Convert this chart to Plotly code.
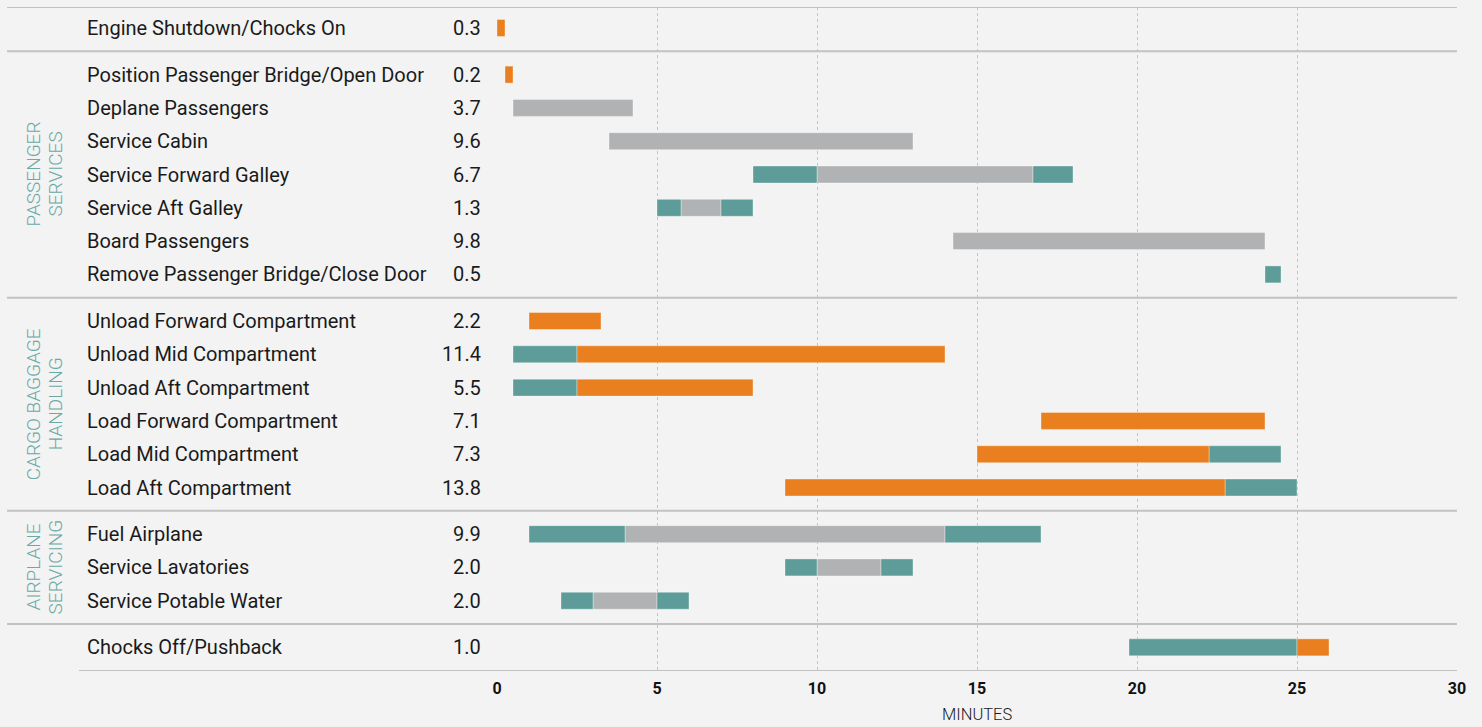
import plotly.graph_objects as go

# ---------------- data ----------------
tasks = [
    "Engine Shutdown/Chocks On",
    "Position Passenger Bridge/Open Door",
    "Deplane Passengers",
    "Service Cabin",
    "Service Forward Galley",
    "Service Aft Galley",
    "Board Passengers",
    "Remove Passenger Bridge/Close Door",
    "Unload Forward Compartment",
    "Unload Mid Compartment",
    "Unload Aft Compartment",
    "Load Forward Compartment",
    "Load Mid Compartment",
    "Load Aft Compartment",
    "Fuel Airplane",
    "Service Lavatories",
    "Service Potable Water",
    "Chocks Off/Pushback",
]
durations = ["0.3", "0.2", "3.7", "9.6", "6.7", "1.3", "9.8", "0.5",
             "2.2", "11.4", "5.5", "7.1", "7.3", "13.8",
             "9.9", "2.0", "2.0", "1.0"]
task_group = [0, 1, 1, 1, 1, 1, 1, 1, 2, 2, 2, 2, 2, 2, 3, 3, 3, 4]
group_labels = [[], ["PASSENGER", "SERVICES"], ["CARGO BAGGAGE", "HANDLING"],
                ["AIRPLANE", "SERVICING"], []]

# bar segments: task index, start (min), end (min), kind
seg_task = [0, 1, 2, 3,
            4, 4, 4,
            5, 5, 5,
            6, 7,
            8, 9, 9, 10, 10, 11, 12, 12, 13, 13,
            14, 14, 14, 15, 15, 15, 16, 16, 16,
            17, 17]
seg_start = [0.0, 0.25, 0.5, 3.5,
             8.0, 10.0, 16.75,
             5.0, 5.75, 7.0,
             14.25, 24.0,
             1.0, 0.5, 2.5, 0.5, 2.5, 17.0, 15.0, 22.25, 9.0, 22.75,
             1.0, 4.0, 14.0, 9.0, 10.0, 12.0, 2.0, 3.0, 5.0,
             19.75, 25.0]
seg_end = [0.25, 0.5, 4.25, 13.0,
           10.0, 16.75, 18.0,
           5.75, 7.0, 8.0,
           24.0, 24.5,
           3.25, 2.5, 14.0, 2.5, 8.0, 24.0, 22.25, 24.5, 22.75, 25.0,
           4.0, 14.0, 17.0, 10.0, 12.0, 13.0, 3.0, 5.0, 6.0,
           25.0, 26.0]
seg_kind = ["orange", "orange", "gray", "gray",
            "teal", "gray", "teal",
            "teal", "gray", "teal",
            "gray", "teal",
            "orange", "teal", "orange", "teal", "orange", "orange", "orange", "teal", "orange", "teal",
            "teal", "gray", "teal", "teal", "gray", "teal", "teal", "gray", "teal",
            "teal", "orange"]

x_ticks = [0, 5, 10, 15, 20, 25, 30]

# ---------------- style ----------------
COLORS = {"orange": "#E97F1F", "teal": "#5D9C98", "gray": "#B1B2B4"}
BG = "#F3F3F3"
TEAL_TXT = "#6AA9A5"
FONT = "Roboto, sans-serif"
W, H = 1482, 727
L, R, T, B = 497, 25, 7, 56
GROUP_GAP = 0.4
plot_w = W - L - R

# row positions (in row units) derived from index and group
ypos = [i + GROUP_GAP * g for i, g in enumerate(task_group)]
y_top = -0.63
y_bot = y_top + (H - T - B) / 33.3


def px_to_paper_x(px):
    return (px - L) / plot_w


fig = go.Figure()
for kind in ["gray", "teal", "orange"]:
    idx = [k for k, v in enumerate(seg_kind) if v == kind]
    fig.add_trace(go.Bar(
        orientation="h",
        y=[ypos[seg_task[k]] for k in idx],
        base=[seg_start[k] for k in idx],
        x=[seg_end[k] - seg_start[k] for k in idx],
        width=0.51,
        marker=dict(color=COLORS[kind], line=dict(color="rgba(255,255,255,0.35)", width=1)),
        showlegend=False,
        hoverinfo="skip",
    ))

annotations = []
for i, name in enumerate(tasks):
    annotations.append(dict(
        x=px_to_paper_x(85), xref="paper", y=ypos[i], yref="y",
        text=name, showarrow=False, xanchor="left", yanchor="middle",
        font=dict(family=FONT, size=20, color="#1a1a1a", weight=400)))
    annotations.append(dict(
        x=px_to_paper_x(483), xref="paper", y=ypos[i], yref="y",
        text=durations[i], showarrow=False, xanchor="right", yanchor="middle",
        font=dict(family=FONT, size=20, color="#1a1a1a", weight=400)))

# group labels (rotated, two lines each)
for g, lines in enumerate(group_labels):
    if not lines:
        continue
    ys = [ypos[i] for i in range(len(tasks)) if task_group[i] == g]
    for j, line in enumerate(lines):
        annotations.append(dict(
            x=px_to_paper_x(33 + 22 * j), xref="paper", y=(min(ys) + max(ys)) / 2, yref="y",
            text=line, showarrow=False, textangle=-90, xanchor="center", yanchor="middle",
            font=dict(family=FONT, size=19, color=TEAL_TXT, weight=300)))

annotations.append(dict(
    x=15, xref="x", y=0, yref="paper", yshift=-33, borderpad=0,
    text="MINUTES", showarrow=False, xanchor="center", yanchor="top",
    font=dict(family=FONT, size=16.5, color="#1a1a1a", weight=300)))

# separators between groups
shapes = []
sep_y = [y_top]
for i in range(1, len(tasks)):
    if task_group[i] != task_group[i - 1]:
        sep_y.append((ypos[i] + ypos[i - 1]) / 2)
for yv in sep_y:
    shapes.append(dict(type="line", xref="paper", yref="y",
                       x0=px_to_paper_x(7), x1=1, y0=yv, y1=yv,
                       line=dict(color="#C2C2C2", width=2)))
shapes.append(dict(type="line", xref="paper", yref="y",
                   x0=px_to_paper_x(79), x1=1, y0=y_bot, y1=y_bot,
                   line=dict(color="#C2C2C2", width=2)))

fig.update_layout(
    width=W, height=H,
    margin=dict(l=L, r=R, t=T, b=B),
    paper_bgcolor=BG, plot_bgcolor=BG,
    barmode="overlay",
    annotations=annotations,
    shapes=shapes,
    xaxis=dict(range=[0, 30], tickvals=x_ticks, ticktext=[str(v) for v in x_ticks],
               showgrid=True, gridcolor="#C4C4C4", griddash="dot", gridwidth=1,
               zeroline=False, showline=False, ticks="outside", ticklen=3, tickcolor=BG,
               tickfont=dict(family=FONT, size=16, color="#111111", weight="bold"),
               fixedrange=True),
    yaxis=dict(range=[y_bot, y_top], showticklabels=False, showgrid=False,
               zeroline=False, showline=False, fixedrange=True),
)

fig.write_html("out.html", config={"displayModeBar": False},
               post_script="document.body.style.margin='0';document.body.style.background='#F3F3F3';")
